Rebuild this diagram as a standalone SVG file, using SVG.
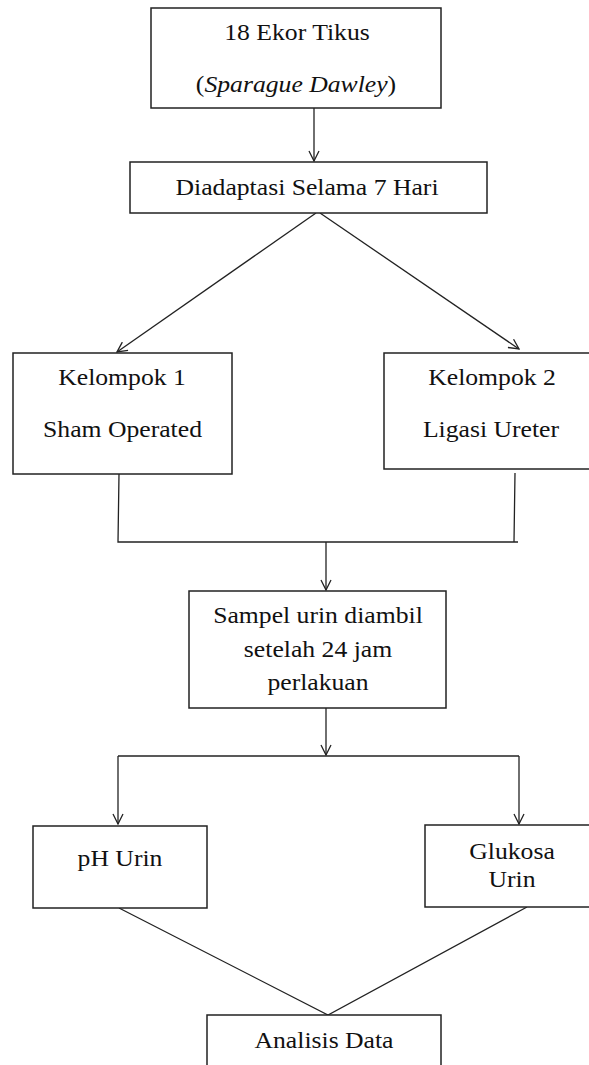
<svg xmlns="http://www.w3.org/2000/svg" width="589" height="1065" viewBox="0 0 589 1065">
<defs>
<marker id="arr" viewBox="0 0 12 12" refX="11" refY="6" markerWidth="12" markerHeight="12" markerUnits="userSpaceOnUse" orient="auto">
<path d="M1,1 L11,6 L1,11" fill="none" stroke="#222" stroke-width="1.3"/>
</marker>
<style>
rect{fill:#fff;stroke:#222;stroke-width:1.5}
text{font-family:'Liberation Serif',serif;font-size:24px;fill:#111;text-anchor:middle}
.it{font-style:italic}
#connectors line,#connectors path{stroke:#222;stroke-width:1.3;fill:none}
</style>
</defs>
<rect x="0" y="0" width="589" height="1065" style="fill:#fff;stroke:none"/>
<g id="connectors">
<line x1="314" y1="108" x2="314" y2="161" marker-end="url(#arr)"/>
<line x1="316" y1="213" x2="117" y2="352" marker-end="url(#arr)"/>
<line x1="320" y1="213" x2="519" y2="349" marker-end="url(#arr)"/>
<path d="M119,474 L118,542 L518,542 M515,473 L514,542"/>
<line x1="326" y1="542" x2="326" y2="590" marker-end="url(#arr)"/>
<line x1="326" y1="708" x2="326" y2="755" marker-end="url(#arr)"/>
<path d="M118,756 L519,756"/>
<line x1="118" y1="756" x2="118" y2="824" marker-end="url(#arr)"/>
<line x1="519" y1="756" x2="519" y2="824" marker-end="url(#arr)"/>
<path d="M119,908 L328,1015 L527,907"/>
</g>
<g id="n1">
<rect x="151" y="8" width="290" height="100"/>
<text transform="matrix(1.07 0 0 1 297 40)">18 Ekor Tikus</text>
<text transform="matrix(1.07 0 0 1 296 92)">(<tspan class="it">Sparague Dawley</tspan>)</text>
</g>
<g id="n2">
<rect x="130" y="162" width="357" height="51"/>
<text transform="matrix(1.07 0 0 1 307 195)">Diadaptasi Selama 7 Hari</text>
</g>
<g id="n3">
<rect x="13" y="353" width="219" height="121"/>
<text transform="matrix(1.07 0 0 1 122 385)">Kelompok 1</text>
<text transform="matrix(1.07 0 0 1 122.5 437)">Sham Operated</text>
</g>
<g id="n4">
<rect x="384" y="353" width="215" height="116"/>
<text transform="matrix(1.07 0 0 1 492 385)">Kelompok 2</text>
<text transform="matrix(1.07 0 0 1 491 437)">Ligasi Ureter</text>
</g>
<g id="n5">
<rect x="189" y="591" width="257" height="117"/>
<text transform="matrix(1.07 0 0 1 318 623)">Sampel urin diambil</text>
<text transform="matrix(1.07 0 0 1 318 657)">setelah 24 jam</text>
<text transform="matrix(1.07 0 0 1 318 690)">perlakuan</text>
</g>
<g id="n6">
<rect x="33" y="826" width="174" height="82"/>
<text transform="matrix(1.07 0 0 1 120 866)">pH Urin</text>
</g>
<g id="n7">
<rect x="425" y="825" width="174" height="82"/>
<text transform="matrix(1.07 0 0 1 512 859)">Glukosa</text>
<text transform="matrix(1.07 0 0 1 512 887)">Urin</text>
</g>
<g id="n8">
<rect x="207" y="1015" width="234" height="60"/>
<text transform="matrix(1.07 0 0 1 324 1048)">Analisis Data</text>
</g>
</svg>
